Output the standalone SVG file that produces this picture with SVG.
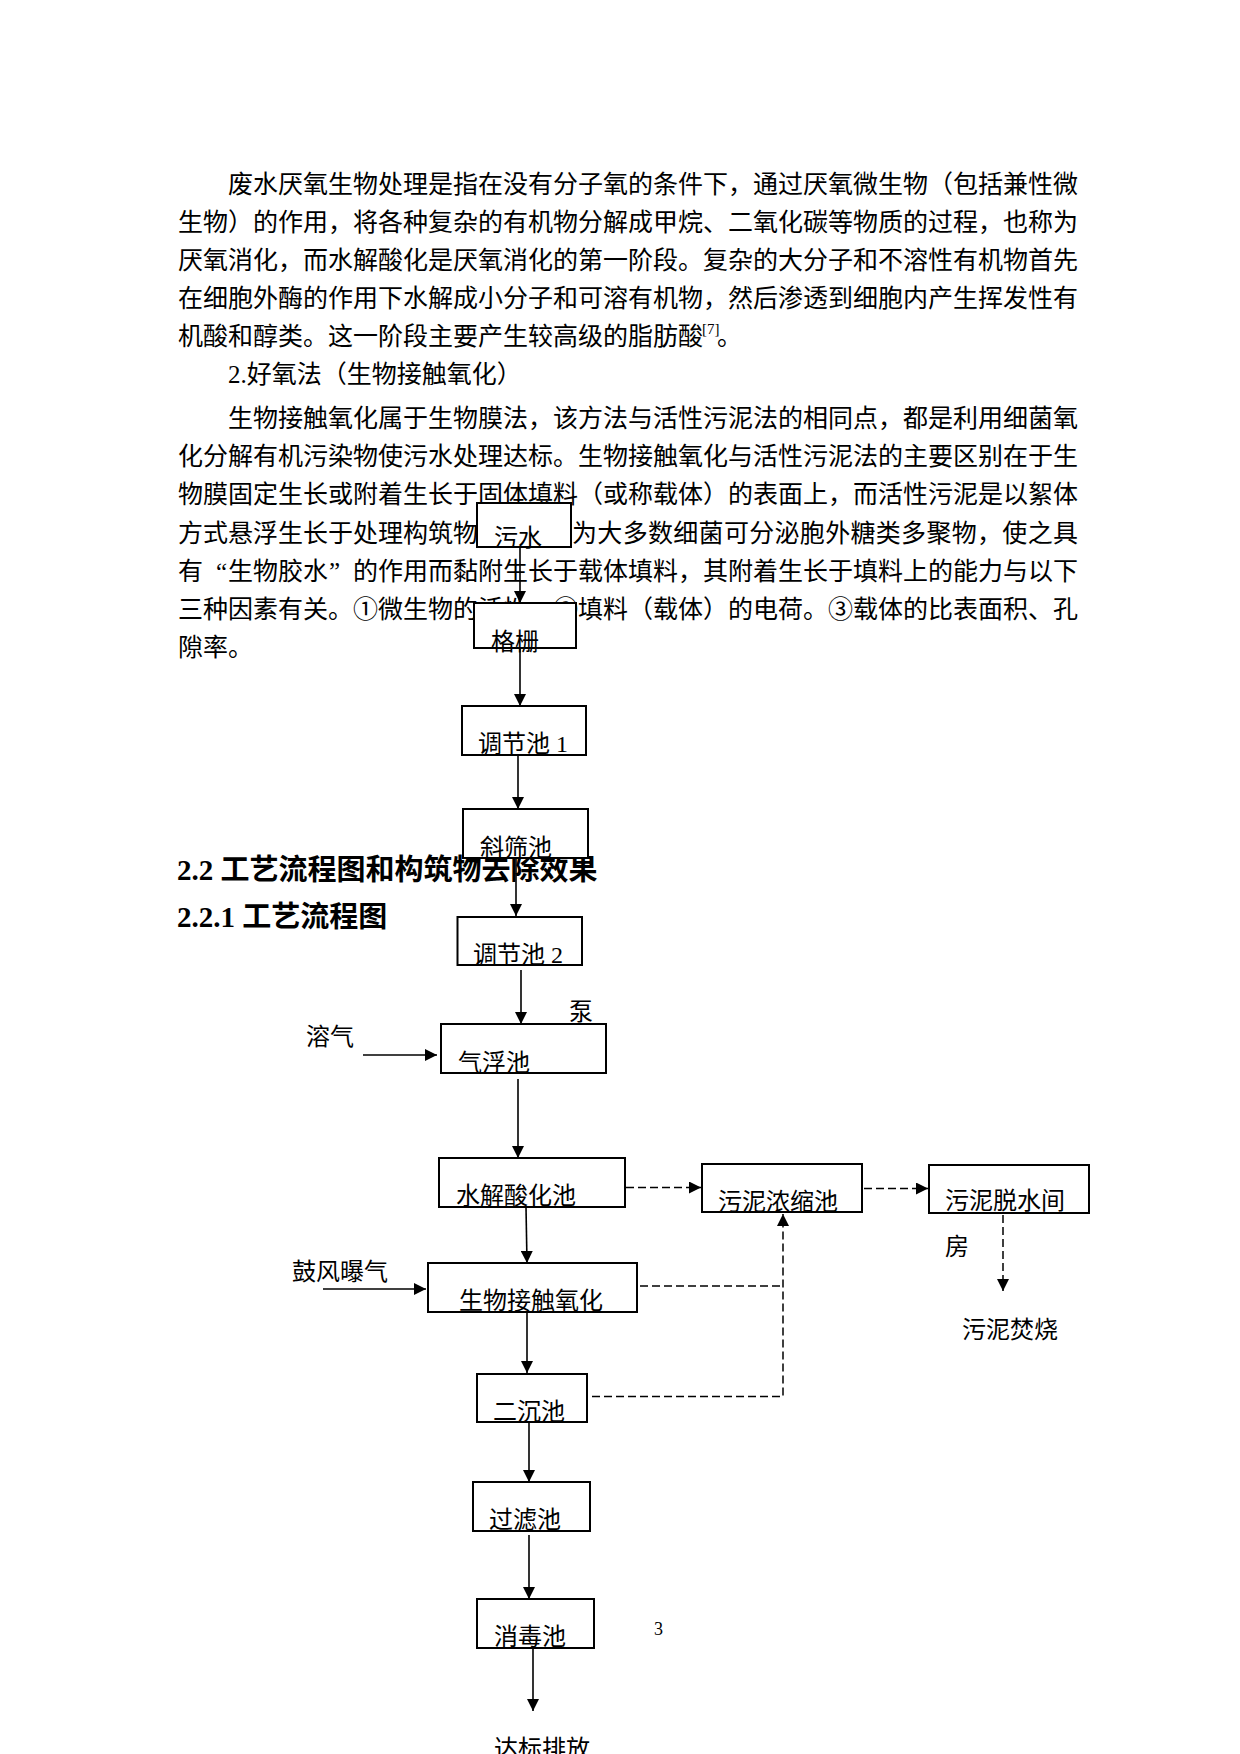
<svg xmlns="http://www.w3.org/2000/svg" width="1240" height="1754" viewBox="0 0 1240 1754">
<style>
.body{font-family:"Liberation Serif","Noto Sans CJK SC",serif;font-size:25px;fill:#000}
.head{font-family:"Liberation Serif","Noto Sans CJK SC",serif;font-size:29px;font-weight:bold;fill:#000}
.lbl{font-family:"Liberation Serif","Noto Sans CJK SC",serif;font-size:24px;fill:#000}
.box{fill:#fff;stroke:#000;stroke-width:2}
.ln{fill:none;stroke:#000;stroke-width:1.6}
.dash{fill:none;stroke:#000;stroke-width:1.5;stroke-dasharray:8 4}
</style>
<defs>
<marker id="ah" viewBox="0 0 12 12" refX="12" refY="6" markerWidth="12" markerHeight="12" orient="auto" markerUnits="userSpaceOnUse"><path d="M0,0 L12,6 L0,12 z" fill="#000"/></marker>
</defs>
<rect width="1240" height="1754" fill="#fff"/>
<g id="bodytext" class="body">
<text x="228" y="192.5" textLength="850" lengthAdjust="spacing">废水厌氧生物处理是指在没有分子氧的条件下，通过厌氧微生物（包括兼性微</text>
<text x="178" y="230.6" textLength="900" lengthAdjust="spacing">生物）的作用，将各种复杂的有机物分解成甲烷、二氧化碳等物质的过程，也称为</text>
<text x="178" y="268.7" textLength="900" lengthAdjust="spacing">厌氧消化，而水解酸化是厌氧消化的第一阶段。复杂的大分子和不溶性有机物首先</text>
<text x="178" y="306.8" textLength="900" lengthAdjust="spacing">在细胞外酶的作用下水解成小分子和可溶有机物，然后渗透到细胞内产生挥发性有</text>
<text x="178" y="344.9" textLength="525" lengthAdjust="spacing">机酸和醇类。这一阶段主要产生较高级的脂肪酸</text>
<text x="702" y="334" style="font-size:15px">[7]</text>
<text x="717" y="344.9">。</text>
<text x="228" y="383">2.好氧法（生物接触氧化）</text>
<text x="228" y="427" textLength="850" lengthAdjust="spacing">生物接触氧化属于生物膜法，该方法与活性污泥法的相同点，都是利用细菌氧</text>
<text x="178" y="465.2" textLength="900" lengthAdjust="spacing">化分解有机污染物使污水处理达标。生物接触氧化与活性污泥法的主要区别在于生</text>
<text x="178" y="503.4" textLength="900" lengthAdjust="spacing">物膜固定生长或附着生长于固体填料（或称载体）的表面上，而活性污泥是以絮体</text>
<text x="178" y="541.6" textLength="300" lengthAdjust="spacing">方式悬浮生长于处理构筑物</text>
<text x="572" y="541.6" textLength="506" lengthAdjust="spacing">为大多数细菌可分泌胞外糖类多聚物，使之具</text>
<text y="579.8"><tspan x="178">有</tspan><tspan x="216">“</tspan><tspan x="228">生物胶水</tspan><tspan x="329">”</tspan><tspan x="353" textLength="725" lengthAdjust="spacing">的作用而黏附生长于载体填料，其附着生长于填料上的能力与以下</tspan></text>
<text x="178" y="618" textLength="900" lengthAdjust="spacing">三种因素有关。①微生物的活性。②填料（载体）的电荷。③载体的比表面积、孔</text>
<text x="178" y="656.2">隙率。</text>
</g>
<g id="headings" class="head">
<text x="177" y="880">2.2 工艺流程图和构筑物去除效果</text>
<text x="177" y="927">2.2.1 工艺流程图</text>
</g>
<g id="connectors">
<line class="ln" x1="520" y1="547" x2="520" y2="603" marker-end="url(#ah)"/>
<line class="ln" x1="520" y1="648" x2="520" y2="706" marker-end="url(#ah)"/>
<line class="ln" x1="518" y1="755" x2="518" y2="809" marker-end="url(#ah)"/>
<line class="ln" x1="516" y1="858" x2="516" y2="916" marker-end="url(#ah)"/>
<line class="ln" x1="521" y1="970" x2="521" y2="1024" marker-end="url(#ah)"/>
<line class="ln" x1="518" y1="1079" x2="518" y2="1158" marker-end="url(#ah)"/>
<line class="ln" x1="363" y1="1055" x2="437" y2="1055" marker-end="url(#ah)"/>
<line class="ln" x1="526" y1="1207" x2="527" y2="1263" marker-end="url(#ah)"/>
<line class="ln" x1="323" y1="1289" x2="426" y2="1289" marker-end="url(#ah)"/>
<line class="ln" x1="527" y1="1312" x2="527" y2="1373" marker-end="url(#ah)"/>
<line class="ln" x1="529" y1="1422" x2="529" y2="1482" marker-end="url(#ah)"/>
<line class="ln" x1="529" y1="1535" x2="529" y2="1599" marker-end="url(#ah)"/>
<line class="ln" x1="533" y1="1648" x2="533" y2="1711" marker-end="url(#ah)"/>
<line class="dash" x1="626" y1="1187.5" x2="701" y2="1187.5" marker-end="url(#ah)"/>
<line class="dash" x1="864" y1="1188.5" x2="928" y2="1188.5" marker-end="url(#ah)"/>
<line class="dash" x1="1003" y1="1215" x2="1003" y2="1291" marker-end="url(#ah)"/>
<line class="dash" x1="640" y1="1286" x2="783" y2="1286"/>
<polyline class="dash" points="592,1396.5 783,1396.5 783,1214" marker-end="url(#ah)"/>
</g>
<g id="n-wushui"><rect class="box" x="477" y="503" width="94" height="44"/><text class="lbl" x="494" y="546">污水</text></g>
<g id="n-geshan"><rect class="box" x="474" y="603" width="102" height="45"/><text class="lbl" x="491" y="650">格栅</text></g>
<g id="n-tiaojie1"><rect class="box" x="462" y="706" width="124" height="49"/><text class="lbl" x="478" y="752">调节池 1</text></g>
<g id="n-xieshai"><rect class="box" x="463" y="809" width="125" height="49"/><text class="lbl" x="480" y="856">斜筛池</text></g>
<g id="n-tiaojie2"><rect class="box" x="457.5" y="917" width="124.5" height="48"/><text class="lbl" x="473" y="963">调节池 2</text></g>
<g id="n-beng"><text class="lbl" x="569" y="1020">泵</text></g>
<g id="n-rongqi"><text class="lbl" x="306" y="1045">溶气</text></g>
<g id="n-qifu"><rect class="box" x="441" y="1024" width="165" height="49"/><text class="lbl" x="458" y="1071">气浮池</text></g>
<g id="n-shuijie"><rect class="box" x="439" y="1158" width="186" height="49"/><text class="lbl" x="456" y="1204">水解酸化池</text></g>
<g id="n-gufeng"><text class="lbl" x="292" y="1280">鼓风曝气</text></g>
<g id="n-shengwu"><rect class="box" x="428" y="1263" width="209" height="49"/><text class="lbl" x="459" y="1309">生物接触氧化</text></g>
<g id="n-erchen"><rect class="box" x="477" y="1374" width="110" height="48"/><text class="lbl" x="493" y="1420">二沉池</text></g>
<g id="n-guolv"><rect class="box" x="473" y="1482" width="117" height="49"/><text class="lbl" x="489" y="1528">过滤池</text></g>
<g id="n-xiaodu"><rect class="box" x="477" y="1599" width="117" height="49"/><text class="lbl" x="494" y="1645">消毒池</text></g>
<g id="n-dabiao"><text class="lbl" x="494" y="1757">达标排放</text></g>
<g id="n-nongsuo"><rect class="box" x="702" y="1164" width="160" height="48"/><text class="lbl" x="718" y="1210">污泥浓缩池</text></g>
<g id="n-tuoshui"><rect class="box" x="929" y="1165" width="160" height="48"/><text class="lbl" x="945" y="1209">污泥脱水间</text><text class="lbl" x="945" y="1255">房</text></g>
<g id="n-fenshao"><text class="lbl" x="962" y="1338">污泥焚烧</text></g>
<g id="pagenum"><text x="654" y="1635" style="font-family:'Liberation Serif',serif;font-size:18px">3</text></g>
</svg>
